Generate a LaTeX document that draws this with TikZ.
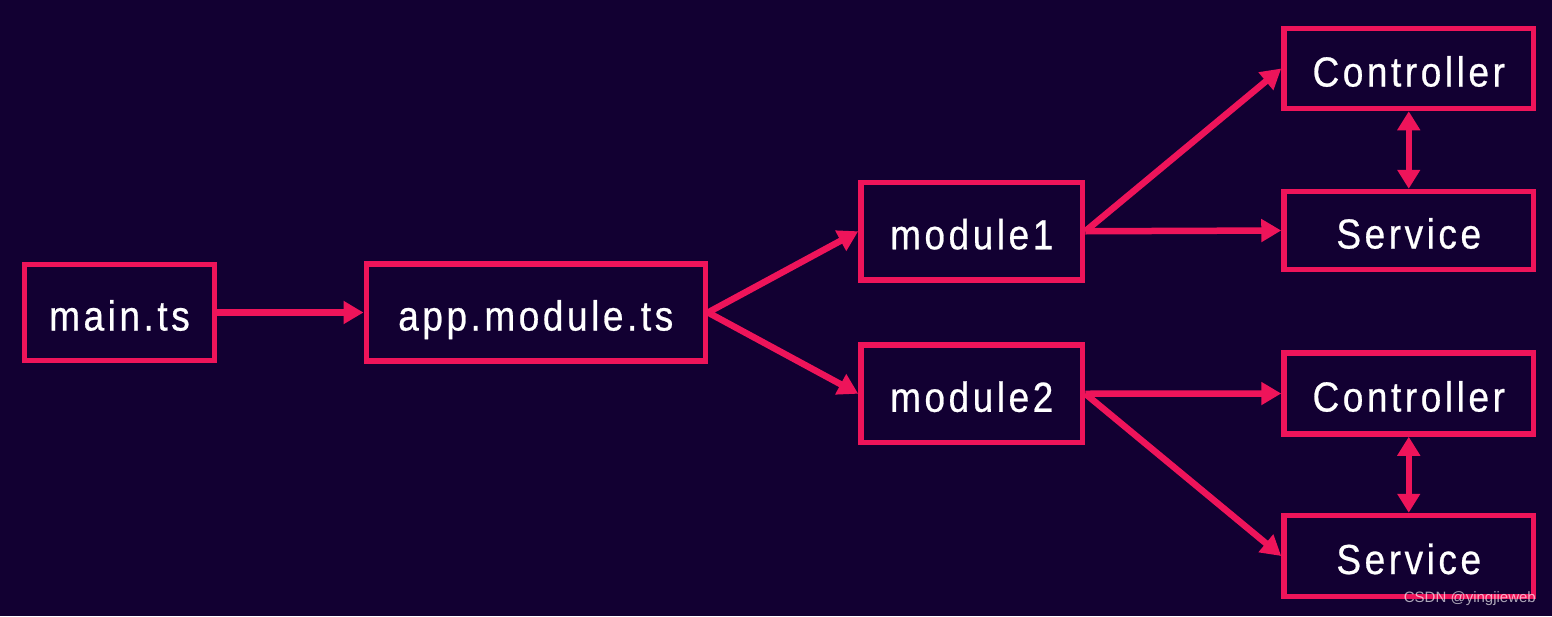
\documentclass[tikz,border=0pt]{standalone}
\usepackage{fontspec}
\usetikzlibrary{arrows.meta}
\newfontfamily\boxfont{Liberation Sans}[FakeStretch=0.88,LetterSpace=8.5,FakeBold=0.6]
\newfontfamily\markfont{Liberation Sans}
\definecolor{bg}{HTML}{120032}
\definecolor{pink}{HTML}{EE145A}
\tikzset{
  box/.style={draw=pink, line width=5.5pt, rectangle, inner sep=0pt,
    text=white, font=\boxfont\fontsize{42}{50}\selectfont,
    text height=36pt, text depth=0pt},
  link/.style={draw=pink, line width=6.5pt, -{Triangle[length=20pt,width=22pt]}},
  dlink/.style={draw=pink, line width=6.5pt, {Triangle[length=19pt,width=22pt]}-{Triangle[length=19pt,width=22pt]}},
}
\begin{document}
\begin{tikzpicture}[x=1pt,y=-1pt]
\fill[bg] (0,0) rectangle (1552,616);
\useasboundingbox (0,0) rectangle (1552,616);
\node[box, minimum width=190pt, minimum height=96pt] (main) at (119.5,312.5) {main.ts};
\node[box, minimum width=339pt, minimum height=97pt] (app) at (535.75,312.5) {app.module.ts};
\node[box, minimum width=221.5pt, minimum height=97.5pt] (m1) at (971.75,231.25) {module1};
\node[box, minimum width=221.5pt, minimum height=97.5pt] (m2) at (971.75,393.75) {module2};
\node[box, minimum width=249.5pt, minimum height=80pt] (c1) at (1408.75,68.5) {Controller};
\node[box, minimum width=249.5pt, minimum height=78pt] (s1) at (1408.75,230.5) {Service};
\node[box, minimum width=249.5pt, minimum height=81pt] (c2) at (1408.75,393.5) {Controller};
\node[box, minimum width=249.5pt, minimum height=81pt] (s2) at (1408.75,556) {Service};
\draw[link] (main.east) -- (app.west);
\draw[link] (app.east) -- (m1.west);
\draw[link] (app.east) -- (m2.west);
\draw[link] (m1.east) -- (c1.west);
\draw[link] (m1.east) -- (s1.west);
\draw[link] (m2.east) -- (c2.west);
\draw[link] (m2.east) -- (s2.west);
\draw[dlink] (c1.south) -- (s1.north);
\draw[dlink] (c2.south) -- (s2.north);
\node[anchor=base east, inner sep=0pt, text=white, text opacity=0.65,
  font=\markfont\fontsize{15}{18}\selectfont] (mark) at (1536,602) {CSDN @yingjieweb};
\end{tikzpicture}
\end{document}
